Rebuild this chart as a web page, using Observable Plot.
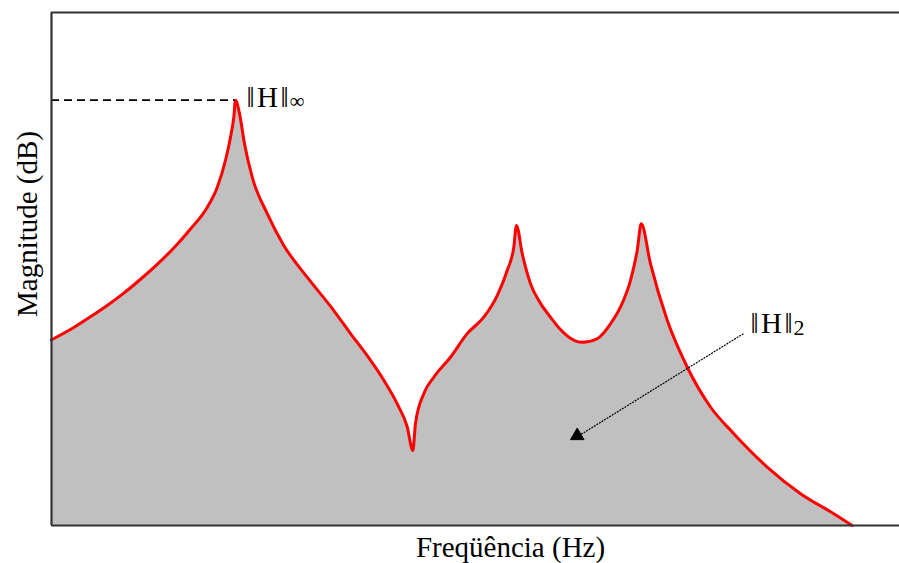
<!DOCTYPE html>
<html>
<head>
<meta charset="utf-8">
<script src="https://cdn.jsdelivr.net/npm/d3@7"></script>
<script src="https://cdn.jsdelivr.net/npm/@observablehq/plot@0.6"></script>
<style>
  html, body { margin: 0; padding: 0; background: #fff; }
  #chart svg { display: block; }
</style>
</head>
<body>
<div id="chart"></div>
<script>
// Frequency response magnitude (arbitrary units, 0–100 on both axes)
const freq = [
  0, 2.63, 4.60, 6.57, 8.53, 10.5, 12.46, 14.42, 16.39, 18.36, 19.54, 20.52, 21.11, 21.50, 21.70,
  22.17, 22.76, 23.67, 25.44, 27.39, 30.15, 33.29, 35.26, 37.23, 39.19, 40.77, 41.95, 42.61,
  42.92, 43.90, 45.08, 47.05, 49.02, 50.98, 52.56, 53.74, 54.52, 54.83,
  55.51, 56.49, 57.67, 58.85, 60.02, 61.20, 62.58, 64.35, 65.92, 67.10, 68.28, 69.07, 69.54,
  70.64, 72.61, 74.96, 77.71, 80.46, 84.40, 88.33, 92.25, 94.42
];
const mag = [
  36.2, 38.6, 40.7, 42.9, 45.3, 48.0, 50.9, 54.1, 57.8, 62.0, 65.9, 71.2, 75.7, 79.6, 82.9,
  80.3, 74.4, 67.9, 60.8, 54.6, 48.4, 41.9, 37.4, 33.1, 28.3, 23.7, 19.2, 14.6,
  19.8, 25.7, 28.9, 32.8, 37.4, 40.6, 44.8, 49.7, 54.3, 58.5,
  53.0, 47.1, 43.3, 40.6, 38.2, 36.5, 35.7, 36.4, 39.3, 42.6, 47.8, 53.6, 58.8,
  51.0, 40.0, 30.9, 23.1, 17.9, 11.4, 6.2, 2.3, 0
];

// Labels
const xLabel = "Freqüência (Hz)";
const yLabel = "Magnitude (dB)";
const normSymbol = "‖\u200AH\u200A‖";
const infSub = "∞";
const twoSub = "2";

// Pointer for the H2 norm: from the label to the shaded area
const arrowFrom = {x: 81.6, y: 37.4};
const arrowTo = {x: 62.0, y: 17.3};

const response = freq.map((f, i) => ({f, m: mag[i]}));
const peak = response[d3.maxIndex(response, d => d.m)];

const serif = "'Liberation Serif', 'Times New Roman', serif";
const frameColor = "#333";
const labelSize = 29;

// width of the norm symbol, so the subscripts sit right after it
const ctx = document.createElement("canvas").getContext("2d");
ctx.font = `${labelSize}px ${serif}`;
const normWidth = ctx.measureText(normSymbol).width;

const chart = Plot.plot({
  width: 899,
  height: 563,
  marginTop: 12,
  marginRight: 0,
  marginBottom: 38,
  marginLeft: 51,
  style: {background: "#fff", fontFamily: serif},
  x: {domain: [0, 100], axis: null},
  y: {domain: [0, 100], axis: null},
  marks: [
    // shaded area under the response (H2 norm)
    Plot.areaY(response, {x: "f", y: "m", fill: "#c0c0c0", curve: "monotone-x"}),
    Plot.line(response, {x: "f", y: "m", stroke: "#ff0000", strokeWidth: 3, curve: "monotone-x"}),
    // dashed level of the peak (H-infinity norm)
    Plot.ruleY([peak], {y: "m", x1: 0, x2: "f", stroke: "#000", strokeWidth: 1.8, strokeDasharray: "8,5"}),
    Plot.text([peak], {x: "f", y: "m", text: () => normSymbol, dx: 11, dy: 7, textAnchor: "start", lineAnchor: "bottom", fontSize: labelSize, fill: "#000"}),
    Plot.text([peak], {x: "f", y: "m", text: () => infSub, dx: 12 + normWidth, dy: 8, textAnchor: "start", lineAnchor: "bottom", fontSize: 21, fill: "#000"}),
    // arrow to the area
    Plot.link([arrowFrom], {x1: "x", y1: "y", x2: () => arrowTo.x, y2: () => arrowTo.y, stroke: "#000", strokeWidth: 1.2, strokeDasharray: "2,1"}),
    Plot.dot([arrowTo], {x: "x", y: "y", symbol: "triangle", r: 5, fill: "#000", stroke: "#000", strokeWidth: 1, dy: -1}),
    Plot.text([arrowFrom], {x: "x", y: "y", text: () => normSymbol, dx: 7, dy: -1, textAnchor: "start", lineAnchor: "bottom", fontSize: labelSize, fill: "#000"}),
    Plot.text([arrowFrom], {x: "x", y: "y", text: () => twoSub, dx: 8 + normWidth, dy: 1, textAnchor: "start", lineAnchor: "bottom", fontSize: 22, fill: "#000"}),
    // frame: left, bottom and top borders
    Plot.ruleX([0], {stroke: frameColor, strokeWidth: 2.2}),
    Plot.ruleY([0], {stroke: frameColor, strokeWidth: 2.2}),
    Plot.ruleY([100], {stroke: frameColor, strokeWidth: 2.2}),
    // axis titles
    Plot.text([xLabel], {frameAnchor: "bottom", text: d => d, dx: 35, dy: 22, textAnchor: "middle", lineAnchor: "middle", fontSize: labelSize, fill: "#000"}),
    Plot.text([yLabel], {frameAnchor: "left", text: d => d, dx: -24, dy: -45, rotate: -90, textAnchor: "middle", lineAnchor: "middle", fontSize: labelSize, fill: "#000"})
  ]
});

document.getElementById("chart").appendChild(chart);
</script>
</body>
</html>
